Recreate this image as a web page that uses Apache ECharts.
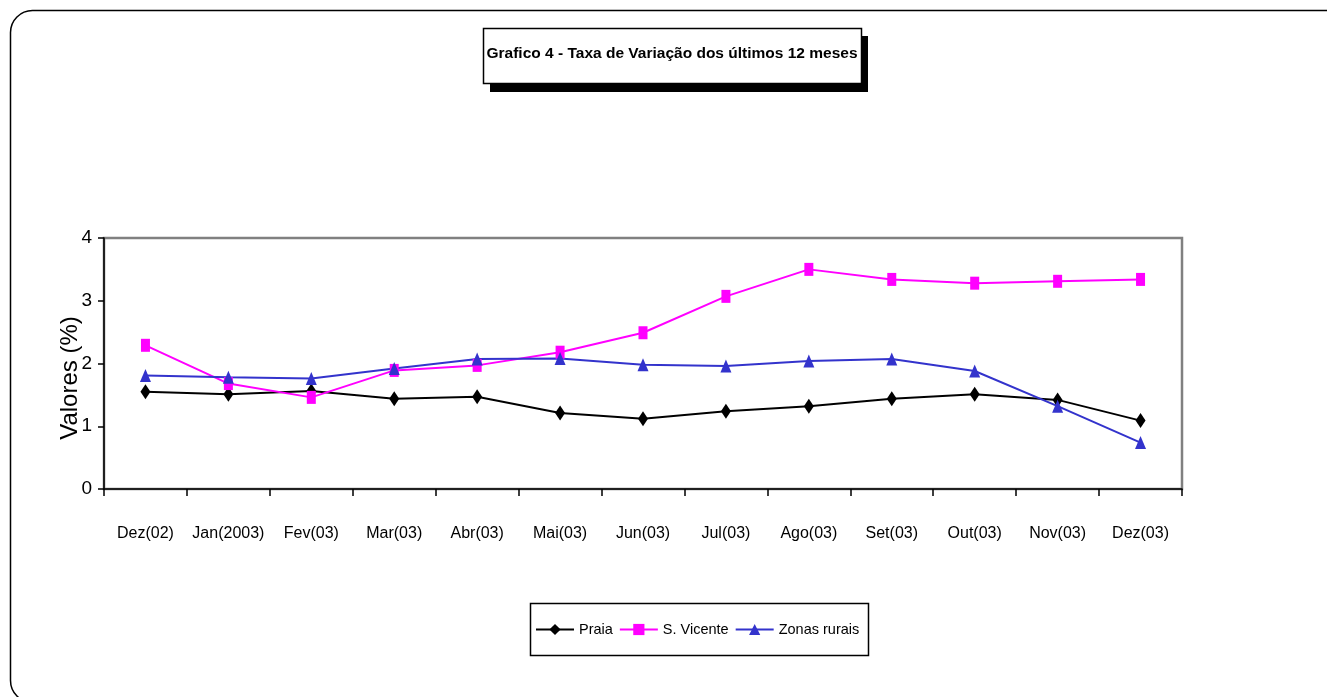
<!DOCTYPE html>
<html><head><meta charset="utf-8">
<script src="https://cdn.jsdelivr.net/npm/echarts@6/dist/echarts.min.js"></script>
<style>html,body{margin:0;padding:0;background:#fff}#c{width:1327px;height:697px}</style>
</head><body><div id="c"></div>
<script>
const categories = ['Dez(02)','Jan(2003)','Fev(03)','Mar(03)','Abr(03)','Mai(03)','Jun(03)','Jul(03)','Ago(03)','Set(03)','Out(03)','Nov(03)','Dez(03)'];
const praia = [1.55,1.51,1.56,1.44,1.47,1.21,1.12,1.24,1.32,1.44,1.51,1.42,1.09];
const sVicente = [2.29,1.68,1.46,1.89,1.97,2.18,2.49,3.07,3.50,3.34,3.28,3.31,3.34];
const zonasRurais = [1.81,1.78,1.76,1.92,2.07,2.08,1.98,1.96,2.04,2.07,1.88,1.32,0.74];
const yTicks = [0,1,2,3,4];
const titleText = 'Grafico 4 - Taxa de Variação dos últimos 12 meses';
const yName = 'Valores (%)';

const FONT = "'Liberation Sans',Arial,sans-serif";
const chart = echarts.init(document.getElementById('c'), null, {renderer:'canvas'});
chart.setOption({
  animation:false,
  backgroundColor:'#fff',
  graphic:[
    {type:'rect', z:-10, shape:{x:10.5,y:10.5,width:1350,height:692,r:22}, style:{fill:'#fff',stroke:'#000',lineWidth:1.5}},
    {type:'rect', z:0, shape:{x:490,y:36,width:378,height:56}, style:{fill:'#000'}},
    {type:'rect', z:1, shape:{x:483.5,y:28.5,width:378,height:55}, style:{fill:'#fff',stroke:'#000',lineWidth:1.5}},
    {type:'text', z:2, x:672, y:54, style:{text:titleText, font:"bold 15.5px "+FONT, fill:'#000', align:'center', verticalAlign:'middle'}},
    {type:'rect', z:0, shape:{x:530.5,y:603.5,width:338,height:52}, style:{fill:'#fff',stroke:'#000',lineWidth:1.5}},
    {type:'text', z:2, x:70, y:378, rotation:Math.PI/2, style:{text:yName, font:"24px "+FONT, fill:'#000', align:'center', verticalAlign:'middle'}}
  ],
  legend:{
    left:535, top:622, itemGap:6, itemWidth:38, itemHeight:14, padding:0,
    textStyle:{fontFamily:FONT, fontSize:14.5, color:'#000'},
    data:['Praia','S. Vicente','Zonas rurais']
  },
  grid:{left:104, right:145, top:238, bottom:208, show:true, borderColor:'#808080', borderWidth:2.5, backgroundColor:'transparent'},
  xAxis:{
    type:'category', data:categories, boundaryGap:true,
    axisLine:{lineStyle:{color:'#000', width:1.5}},
    axisTick:{show:true, alignWithLabel:false, length:7, lineStyle:{color:'#000', width:1.5}},
    axisLabel:{fontFamily:FONT, fontSize:16, color:'#000', margin:37, interval:0}
  },
  yAxis:{
    type:'value', min:0, max:4, interval:1,
    splitLine:{show:false},
    axisLine:{show:true, lineStyle:{color:'#000', width:1.5}},
    axisTick:{show:true, length:6, lineStyle:{color:'#000', width:1.5}},
    axisLabel:{fontFamily:FONT, fontSize:19, color:'#000', margin:12, formatter:v=>yTicks.includes(v)?String(v):''}
  },
  series:[
    {name:'Praia', type:'line', data:praia, symbol:'diamond', symbolSize:[10,15], lineStyle:{color:'#000', width:2}, itemStyle:{color:'#000'}},
    {name:'S. Vicente', type:'line', data:sVicente, symbol:'rect', symbolSize:[9,13], lineStyle:{color:'#FF00FF', width:2}, itemStyle:{color:'#FF00FF'}},
    {name:'Zonas rurais', type:'line', data:zonasRurais, symbol:'triangle', symbolSize:[11,13], lineStyle:{color:'#3333CC', width:2}, itemStyle:{color:'#3333CC'}}
  ]
});
</script></body></html>
